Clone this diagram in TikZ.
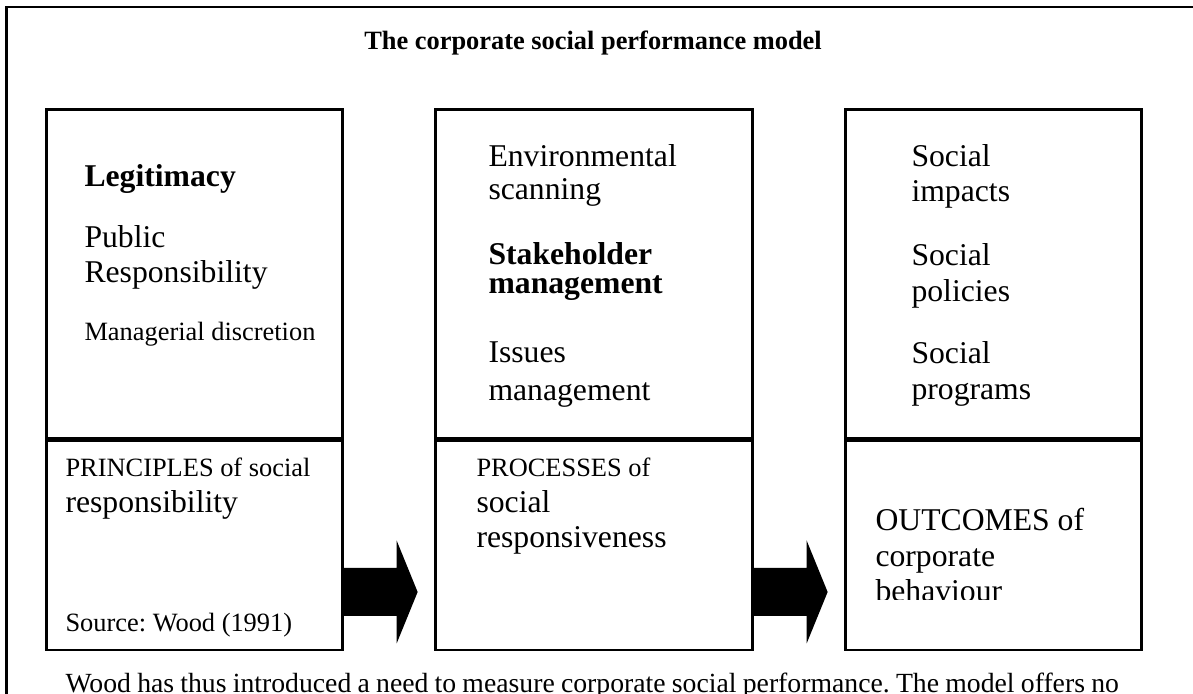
\documentclass[tikz,border=0pt]{standalone}
\usepackage{fontspec}
\setmainfont{Liberation Serif}
\usetikzlibrary{positioning}
\frenchspacing

\newcommand{\unitpx}{0.3788pt}

\tikzset{
  panel/.style={draw, line width=1pt, inner sep=0pt, minimum width=296*\unitpx},
  wide panel/.style={panel, minimum width=317*\unitpx},
  upper/.style={anchor=north west, minimum height=329*\unitpx},
  lower/.style={minimum height=209*\unitpx},
  lbl/.style={inner sep=0pt, anchor=base west, align=left, font={\fontsize{12}{13.3}\selectfont}},
  small lbl/.style={lbl, font={\fontsize{10}{12}\selectfont}},
}

\begin{document}
\begin{tikzpicture}[x=0.3788pt, y=-0.3788pt]
  \useasboundingbox (0,0) rectangle (1193,694);
  \clip (0,0) rectangle (1193,694);

  % frame round the whole figure
  \draw[line width=0.8pt] (6.5,720) -- (6.5,7) -- (1210,7);

  \node[small lbl, anchor=base] (head) at (593,50)
    {\textbf{The corporate social performance model}};

  % the three panels
  \node[panel, upper] (pu) at (45,108) {};
  \node[panel, lower, below=0pt of pu] (pl) {};
  \node[wide panel, upper] (mu) at (434,108) {};
  \node[wide panel, lower, below=0pt of mu] (ml) {};
  \node[panel, upper] (ou) at (844,108) {};
  \node[panel, lower, below=0pt of ou] (ol) {};

  % block arrows between the panels
  \coordinate (arrowrow) at (0,592);
  \foreach \b in {pl, ml}
    \fill (\b.east |- arrowrow) ++(0,-24) -- ++(53,0) -- ++(0,-27.5)
      -- ++(21,51.5) -- ++(-21,51.5) -- ++(0,-27.5) -- ++(-53,0) -- cycle;

  % principles (multi-line labels sit on their last baseline)
  \node[lbl] (legit) at (84,187) {\textbf{Legitimacy}};
  \node[lbl, font={\fontsize{12}{13.26}\selectfont}] (public) at (84,283)
    {Public\\Responsibility};
  \node[small lbl] (discr) at (84,341) {Managerial discretion};
  \node[small lbl] (princ) at (65,477) {PRINCIPLES of social};
  \node[lbl] (princ2) at (65,513) {responsibility};
  \node[small lbl] (src) at (65,632) {Source: Wood (1991)};

  % processes
  \node[lbl, font={\fontsize{12}{12.5}\selectfont}] (scan) at (488,200)
    {Environmental\\scanning};
  \node[lbl, font={\fontsize{12}{11}\selectfont}] (stake) at (488,294)
    {\textbf{Stakeholder}\\\textbf{management}};
  \node[lbl, font={\fontsize{12}{14.4}\selectfont}] (issues) at (488,401)
    {Issues\\management};
  \node[small lbl] (proc) at (476,477) {PROCESSES of};
  \node[lbl, font={\fontsize{12}{13.6}\selectfont}] (proc2) at (476,548)
    {social\\responsiveness};

  % outcomes
  \node[lbl, font={\fontsize{12}{13.6}\selectfont}] (impact) at (911,202)
    {Social\\impacts};
  \node[lbl, font={\fontsize{12}{14}\selectfont}] (policy) at (911,302)
    {Social\\policies};
  \node[lbl, font={\fontsize{12}{14}\selectfont}] (progr) at (911,400)
    {Social\\programs};
  \begin{scope}
    \clip (844,437) rectangle (1140,600);
    \node[lbl, font={\fontsize{12}{13.45}\selectfont}] (outc) at (875,602)
      {OUTCOMES of\\corporate\\behaviour};
  \end{scope}

  \node[lbl, font={\fontsize{10.5}{12.6}\selectfont}] (note) at (65,693)
    {\makebox[399pt][s]{Wood has thus introduced a need to measure corporate social performance. The model offers no}};
\end{tikzpicture}
\end{document}
